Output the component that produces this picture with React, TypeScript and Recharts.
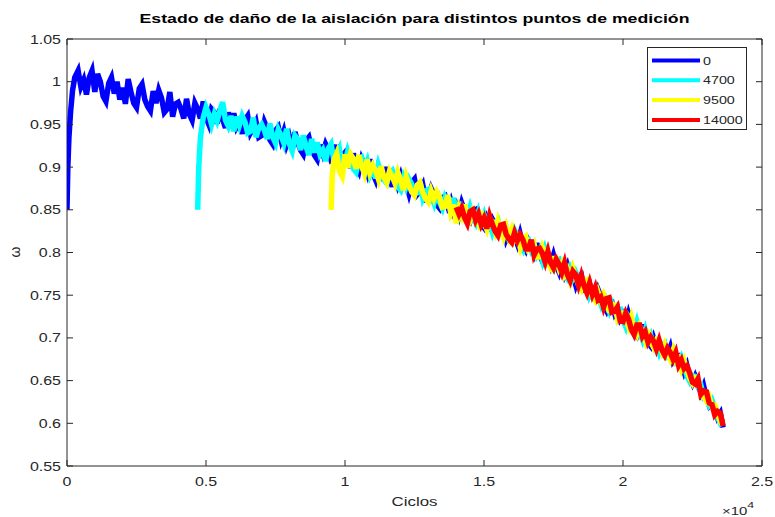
import React from 'react';
import {
  LineChart,
  Line,
  XAxis,
  YAxis,
  ReferenceArea,
  Legend
} from 'recharts';

const WIDTH = 775;
const HEIGHT = 517;
const PLOT = { left: 67, right: 762, top: 39, bottom: 466 };
const FONT = '"Liberation Sans", Arial, Helvetica, sans-serif';
const INK = '#262626';
const TICK_LEN = 6;
const STRETCH = 1.3; // la figura exportada está ensanchada horizontalmente
const STEP = 100;

const X_TICKS = [0, 5000, 10000, 15000, 20000, 25000];
const Y_TICKS = [0.55, 0.6, 0.65, 0.7, 0.75, 0.8, 0.85, 0.9, 0.95, 1, 1.05];

// medición desde el ciclo 0
const blueRiseCycles = [0, 30, 70, 130, 200, 280];
const blueRiseOmega = [0.85, 0.9, 0.935, 0.965, 0.99, 1.005];
const blueGridStart = 400;
const blueOmega = [
  1.013, 0.994, 1.002, 0.985, 1.005, 1.013,
  0.988, 1.009, 1.0, 0.983, 0.977, 0.998, 1.005, 0.986, 1.0, 0.979,
  0.993, 0.974, 1.003, 0.988, 0.975, 0.97, 0.992, 0.997, 0.979, 0.971,
  0.966, 0.989, 0.975, 0.99, 0.981, 0.964, 0.968, 0.988, 0.959, 0.974,
  0.976, 0.968, 0.957, 0.98, 0.962, 0.955, 0.975, 0.968, 0.957, 0.977,
  0.958, 0.95, 0.968, 0.964, 0.951, 0.968, 0.956, 0.946, 0.964, 0.949,
  0.963, 0.947, 0.953, 0.939, 0.955, 0.96, 0.94, 0.946, 0.953, 0.935,
  0.937, 0.953, 0.945, 0.932, 0.927, 0.943, 0.947, 0.932, 0.942, 0.926,
  0.935, 0.92, 0.941, 0.929, 0.92, 0.915, 0.931, 0.935, 0.921, 0.914,
  0.909, 0.926, 0.916, 0.927, 0.92, 0.908, 0.91, 0.926, 0.902, 0.913,
  0.917, 0.91, 0.899, 0.916, 0.902, 0.895, 0.91, 0.903, 0.893, 0.909,
  0.893, 0.885, 0.901, 0.896, 0.884, 0.9, 0.888, 0.877, 0.894, 0.88,
  0.89, 0.877, 0.881, 0.869, 0.882, 0.886, 0.868, 0.872, 0.879, 0.862,
  0.863, 0.875, 0.868, 0.856, 0.852, 0.864, 0.866, 0.854, 0.861, 0.848,
  0.855, 0.844, 0.858, 0.849, 0.841, 0.837, 0.848, 0.85, 0.838, 0.833,
  0.829, 0.84, 0.832, 0.839, 0.833, 0.823, 0.823, 0.834, 0.816, 0.824,
  0.825, 0.819, 0.81, 0.822, 0.809, 0.803, 0.814, 0.808, 0.799, 0.811,
  0.797, 0.79, 0.801, 0.797, 0.786, 0.797, 0.785, 0.777, 0.789, 0.775,
  0.784, 0.771, 0.774, 0.762, 0.772, 0.774, 0.757, 0.759, 0.763, 0.748,
  0.747, 0.757, 0.749, 0.738, 0.732, 0.742, 0.742, 0.729, 0.735, 0.722,
  0.727, 0.714, 0.728, 0.717, 0.708, 0.703, 0.713, 0.713, 0.7, 0.694,
  0.69, 0.7, 0.69, 0.696, 0.69, 0.68, 0.68, 0.689, 0.673, 0.678,
  0.679, 0.671, 0.66, 0.668, 0.655, 0.647, 0.655, 0.647, 0.636, 0.644,
  0.63, 0.621, 0.626, 0.619, 0.607, 0.612, 0.595
];

// medición desde el ciclo 4700
const cyanRiseCycles = [4700, 4740, 4800, 4900];
const cyanRiseOmega = [0.85, 0.9, 0.935, 0.958];
const cyanGridStart = 5000;
const cyanOmega = [
  0.97, 0.962, 0.95, 0.962, 0.954, 0.966, 0.976, 0.955, 0.948, 0.96,
  0.942, 0.959, 0.949, 0.96, 0.953, 0.94, 0.942, 0.958, 0.935, 0.946,
  0.95, 0.943, 0.933, 0.951, 0.935, 0.928, 0.944, 0.937, 0.928, 0.945,
  0.927, 0.919, 0.937, 0.933, 0.92, 0.937, 0.924, 0.914, 0.933, 0.917,
  0.929, 0.915, 0.92, 0.907, 0.922, 0.927, 0.908, 0.913, 0.921, 0.903,
  0.904, 0.919, 0.91, 0.898, 0.894, 0.908, 0.911, 0.898, 0.907, 0.891,
  0.899, 0.887, 0.903, 0.893, 0.885, 0.881, 0.893, 0.896, 0.884, 0.877,
  0.873, 0.887, 0.877, 0.886, 0.88, 0.869, 0.87, 0.883, 0.864, 0.872,
  0.874, 0.867, 0.858, 0.872, 0.859, 0.852, 0.865, 0.859, 0.85, 0.864,
  0.849, 0.843, 0.855, 0.852, 0.841, 0.853, 0.842, 0.835, 0.847, 0.835,
  0.844, 0.831, 0.836, 0.824, 0.835, 0.838, 0.822, 0.824, 0.829, 0.815,
  0.815, 0.826, 0.819, 0.808, 0.803, 0.814, 0.815, 0.803, 0.809, 0.797,
  0.803, 0.791, 0.804, 0.794, 0.786, 0.781, 0.791, 0.792, 0.78, 0.773,
  0.769, 0.78, 0.77, 0.777, 0.77, 0.759, 0.758, 0.769, 0.75, 0.757,
  0.757, 0.75, 0.74, 0.752, 0.738, 0.731, 0.741, 0.734, 0.725, 0.736,
  0.721, 0.713, 0.725, 0.72, 0.708, 0.719, 0.707, 0.698, 0.709, 0.696,
  0.703, 0.692, 0.694, 0.683, 0.692, 0.694, 0.678, 0.68, 0.685, 0.67,
  0.67, 0.677, 0.668, 0.655, 0.649, 0.656, 0.655, 0.643, 0.645, 0.631,
  0.634, 0.622, 0.627, 0.617, 0.607, 0.6, 0.603
];

// medición desde el ciclo 9500
const yellowRiseCycles = [9500, 9540, 9600, 9700];
const yellowRiseOmega = [0.85, 0.89, 0.908, 0.916];
const yellowGridStart = 9800;
const yellowOmega = [
  0.895, 0.889,
  0.915, 0.899, 0.915, 0.91, 0.898, 0.914, 0.901, 0.892, 0.909, 0.894,
  0.902, 0.896, 0.886, 0.901, 0.888, 0.882, 0.895, 0.889, 0.881, 0.894,
  0.885, 0.873, 0.889, 0.879, 0.871, 0.867, 0.879, 0.882, 0.87, 0.863,
  0.859, 0.872, 0.863, 0.871, 0.865, 0.853, 0.854, 0.867, 0.847, 0.856,
  0.834, 0.852, 0.843, 0.856, 0.843, 0.838, 0.849, 0.844, 0.835, 0.848,
  0.834, 0.827, 0.84, 0.836, 0.825, 0.837, 0.826, 0.818, 0.83, 0.818,
  0.827, 0.814, 0.818, 0.806, 0.817, 0.819, 0.803, 0.805, 0.81, 0.795,
  0.795, 0.806, 0.798, 0.787, 0.782, 0.793, 0.793, 0.781, 0.787, 0.774,
  0.78, 0.768, 0.781, 0.771, 0.762, 0.757, 0.767, 0.768, 0.755, 0.749,
  0.744, 0.754, 0.744, 0.751, 0.744, 0.732, 0.731, 0.741, 0.723, 0.729,
  0.729, 0.722, 0.713, 0.724, 0.71, 0.704, 0.714, 0.707, 0.697, 0.709,
  0.695, 0.689, 0.697, 0.693, 0.684, 0.692, 0.682, 0.675, 0.685, 0.673,
  0.676, 0.664, 0.673, 0.662, 0.653, 0.647, 0.653, 0.651, 0.638, 0.631,
  0.626, 0.631, 0.62, 0.621, 0.613, 0.602, 0.598
];

// medición desde el ciclo 14000
const redRiseCycles: number[] = [];
const redRiseOmega: number[] = [];
const redGridStart = 14000;
const redOmega = [
  0.853, 0.845, 0.852, 0.841, 0.834, 0.848, 0.85, 0.838, 0.845, 0.833,
  0.84, 0.828, 0.843, 0.833, 0.825, 0.82, 0.832, 0.833, 0.821, 0.816,
  0.812, 0.823, 0.814, 0.821, 0.815, 0.804, 0.804, 0.815, 0.797, 0.804,
  0.805, 0.799, 0.789, 0.801, 0.788, 0.782, 0.792, 0.786, 0.777, 0.788,
  0.774, 0.767, 0.778, 0.774, 0.762, 0.773, 0.761, 0.753, 0.764, 0.751,
  0.759, 0.745, 0.748, 0.736, 0.746, 0.747, 0.73, 0.731, 0.736, 0.72,
  0.719, 0.729, 0.722, 0.71, 0.704, 0.715, 0.715, 0.702, 0.707, 0.695,
  0.701, 0.696, 0.687, 0.697, 0.686, 0.68, 0.688, 0.683, 0.675, 0.683,
  0.668, 0.674, 0.664, 0.667, 0.659, 0.648, 0.646, 0.652, 0.634, 0.638,
  0.637, 0.624, 0.622, 0.61, 0.614, 0.612, 0.597
];

interface Point {
  cycles: number;
  omega: number;
}

function buildSeries(riseCycles: number[], riseOmega: number[], gridStart: number, omega: number[]): Point[] {
  const rise = riseCycles.map((c, i) => ({ cycles: c, omega: riseOmega[i] }));
  const rest = omega.map((w, i) => ({ cycles: gridStart + i * STEP, omega: w }));
  return [...rise, ...rest];
}

const SERIES = [
  { name: '0', color: '#0000FF', data: buildSeries(blueRiseCycles, blueRiseOmega, blueGridStart, blueOmega) },
  { name: '4700', color: '#00FFFF', data: buildSeries(cyanRiseCycles, cyanRiseOmega, cyanGridStart, cyanOmega) },
  { name: '9500', color: '#FFFF00', data: buildSeries(yellowRiseCycles, yellowRiseOmega, yellowGridStart, yellowOmega) },
  { name: '14000', color: '#FF0000', data: buildSeries(redRiseCycles, redRiseOmega, redGridStart, redOmega) }
];

const formatY = (v: number) => String(Number(v.toFixed(2)));
const formatX = (v: number) => String(v / 10000);

interface STextProps {
  x: number;
  y: number;
  size: number;
  anchor?: 'start' | 'middle' | 'end';
  bold?: boolean;
  fill?: string;
  children: React.ReactNode;
}

// texto ensanchado en x, como en la figura original
function SText({ x, y, size, anchor = 'start', bold, fill = INK, children }: STextProps) {
  return (
    <text
      transform={`translate(${x} ${y}) scale(${STRETCH} 1)`}
      textAnchor={anchor}
      fontSize={size}
      fontWeight={bold ? 'bold' : 'normal'}
      fontFamily={FONT}
      fill={fill}
    >
      {children}
    </text>
  );
}

function XTick(props: any) {
  const { x, payload } = props;
  return (
    <g>
      <line x1={x} y1={PLOT.bottom} x2={x} y2={PLOT.bottom - TICK_LEN} stroke={INK} />
      <line x1={x} y1={PLOT.top} x2={x} y2={PLOT.top + TICK_LEN} stroke={INK} />
      <SText x={x} y={PLOT.bottom + 20} size={12.3} anchor="middle">
        {formatX(payload.value)}
      </SText>
    </g>
  );
}

function YTick(props: any) {
  const { y, payload } = props;
  return (
    <g>
      <line x1={PLOT.left} y1={y} x2={PLOT.left + TICK_LEN} y2={y} stroke={INK} />
      <line x1={PLOT.right} y1={y} x2={PLOT.right - TICK_LEN} y2={y} stroke={INK} />
      <SText x={PLOT.left - 6} y={y + 4.5} size={12.3} anchor="end">
        {formatY(payload.value)}
      </SText>
    </g>
  );
}

function LegendBox() {
  return (
    <div
      style={{
        width: 100,
        height: 83,
        border: '1px solid #262626',
        background: '#fff',
        boxSizing: 'border-box'
      }}
    >
      <svg width={98} height={81} style={{ display: 'block' }}>
        {SERIES.map((s, i) => (
          <g key={s.name}>
            <line x1={4} x2={52} y1={12.5 + i * 19.8} y2={12.5 + i * 19.8} stroke={s.color} strokeWidth={4} />
            <SText x={55} y={16.5 + i * 19.8} size={11}>
              {s.name}
            </SText>
          </g>
        ))}
      </svg>
    </div>
  );
}

export default function App() {
  return (
    <div style={{ position: 'absolute', left: 0, top: 0, width: WIDTH, height: HEIGHT, background: '#fff' }}>
      <LineChart
        width={WIDTH}
        height={HEIGHT}
        margin={{ top: PLOT.top, right: WIDTH - PLOT.right, bottom: 21, left: 27 }}
      >
        <XAxis
          type="number"
          dataKey="cycles"
          domain={[0, 25000]}
          ticks={X_TICKS}
          allowDataOverflow
          height={30}
          axisLine={false}
          tickLine={false}
          tick={<XTick />}
          interval={0}
        />
        <YAxis
          type="number"
          dataKey="omega"
          domain={[0.55, 1.05]}
          ticks={Y_TICKS}
          allowDataOverflow
          width={40}
          axisLine={false}
          tickLine={false}
          tick={<YTick />}
          interval={0}
        />
        {SERIES.map((s) => (
          <Line
            key={s.name}
            data={s.data}
            dataKey="omega"
            name={s.name}
            type="linear"
            stroke={s.color}
            strokeWidth={5.5}
            dot={false}
            activeDot={false}
            isAnimationActive={false}
          />
        ))}
        <ReferenceArea
          x1={0}
          x2={25000}
          y1={0.55}
          y2={1.05}
          fill="none"
          fillOpacity={0}
          stroke={INK}
          strokeWidth={1}
          ifOverflow="visible"
        />
        <Legend
          layout="vertical"
          align="center"
          verticalAlign="middle"
          content={() => <LegendBox />}
          wrapperStyle={{ left: 647, top: 47, width: 100, height: 83 }}
        />
      </LineChart>
      <svg
        width={WIDTH}
        height={HEIGHT}
        style={{ position: 'absolute', left: 0, top: 0, pointerEvents: 'none' }}
      >
        <SText x={414.5} y={23} size={13.6} anchor="middle" bold fill="#000">
          Estado de daño de la aislación para distintos puntos de medición
        </SText>
        <SText x={414.5} y={506} size={13} anchor="middle">
          Ciclos
        </SText>
        <text transform="translate(20 252) rotate(-90)" textAnchor="middle" fontSize={14} fontFamily={FONT} fill={INK}>
          ω
        </text>
        <SText x={722} y={515} size={11.5}>
          ×10
          <tspan dy={-7} fontSize={9.5}>4</tspan>
        </SText>
      </svg>
    </div>
  );
}
